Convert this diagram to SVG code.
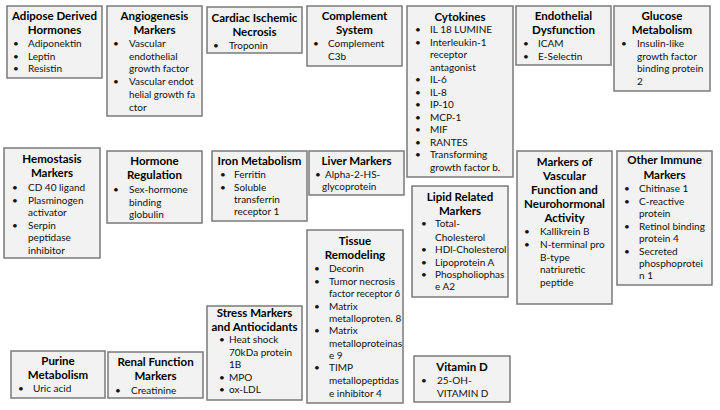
<svg xmlns="http://www.w3.org/2000/svg" width="720" height="410" viewBox="0 0 720 410">
<style>
rect{fill:#f2f2f2;stroke:#7a7a7a;stroke-width:1.5}
.t{font-family:Lato,"Open Sans",sans-serif;font-weight:bold;font-size:11.5px;text-anchor:middle;fill:#000}
.b{font-family:Lato,"Open Sans",sans-serif;font-size:10px;fill:#111}
</style>
<rect x="0" y="0" width="720" height="410" style="fill:#fff;stroke:none"/>
<g id="adipose"><rect x="7" y="6" width="95" height="72"/>
<text class="t" x="54.5" y="20">Adipose Derived</text><text class="t" x="54.5" y="34">Hormones</text>
<text class="b"><tspan x="13" y="47">•</tspan><tspan x="28" y="47">Adiponektin</tspan><tspan x="13" y="60">•</tspan><tspan x="28" y="60">Leptin</tspan><tspan x="13" y="72">•</tspan><tspan x="28" y="72">Resistin</tspan></text></g>
<g id="angiogenesis"><rect x="107" y="6" width="95" height="110"/>
<text class="t" x="154.5" y="20">Angiogenesis</text><text class="t" x="154.5" y="34">Markers</text>
<text class="b"><tspan x="113" y="47">•</tspan><tspan x="129" y="47">Vascular</tspan><tspan x="129" y="60">endothelial</tspan><tspan x="129" y="72">growth factor</tspan><tspan x="113" y="85">•</tspan><tspan x="129" y="85">Vascular endot</tspan><tspan x="129" y="111">ctor</tspan></text>
<text class="b" x="129" y="98" textLength="66" lengthAdjust="spacingAndGlyphs">helial growth fa</text></g>
<g id="cardiac"><rect x="207" y="7" width="95" height="46"/>
<text class="t" x="254.5" y="22">Cardiac Ischemic</text><text class="t" x="254.5" y="36">Necrosis</text>
<text class="b"><tspan x="213" y="49">•</tspan><tspan x="229" y="49">Troponin</tspan></text></g>
<g id="complement"><rect x="307" y="6" width="95" height="60"/>
<text class="t" x="354.5" y="20">Complement</text><text class="t" x="354.5" y="34">System</text>
<text class="b"><tspan x="313" y="47">•</tspan><tspan x="328" y="47">Complement</tspan><tspan x="328" y="60">C3b</tspan></text></g>
<g id="cytokines"><rect x="407" y="6" width="106" height="171"/>
<text class="t" x="460" y="21">Cytokines</text>
<text class="b"><tspan x="415" y="33">•</tspan><tspan x="430" y="33">IL 18 LUMINE</tspan><tspan x="415" y="45.5">•</tspan><tspan x="430" y="45.5">Interleukin-1</tspan><tspan x="430" y="58">receptor</tspan><tspan x="430" y="70.5">antagonist</tspan><tspan x="415" y="83">•</tspan><tspan x="430" y="83">IL-6</tspan><tspan x="415" y="95.5">•</tspan><tspan x="430" y="95.5">IL-8</tspan><tspan x="415" y="108">•</tspan><tspan x="430" y="108">IP-10</tspan><tspan x="415" y="120.5">•</tspan><tspan x="430" y="120.5">MCP-1</tspan><tspan x="415" y="133">•</tspan><tspan x="430" y="133">MIF</tspan><tspan x="415" y="145.5">•</tspan><tspan x="430" y="145.5">RANTES</tspan><tspan x="415" y="158">•</tspan><tspan x="430" y="158">Transforming</tspan><tspan x="430" y="170.5">growth factor b.</tspan></text></g>
<g id="endothelial"><rect x="516" y="6" width="95" height="59"/>
<text class="t" x="563.5" y="20">Endothelial</text><text class="t" x="563.5" y="34">Dysfunction</text>
<text class="b"><tspan x="523" y="47">•</tspan><tspan x="538" y="47">ICAM</tspan><tspan x="523" y="60">•</tspan><tspan x="538" y="60">E-Selectin</tspan></text></g>
<g id="glucose"><rect x="614" y="6" width="96" height="85"/>
<text class="t" x="662" y="20">Glucose</text><text class="t" x="662" y="34">Metabolism</text>
<text class="b"><tspan x="621" y="47">•</tspan><tspan x="637" y="47">Insulin-like</tspan><tspan x="637" y="60">growth factor</tspan><tspan x="637" y="72">binding protein</tspan><tspan x="637" y="85">2</tspan></text></g>
<g id="hemostasis"><rect x="4" y="148" width="96" height="110"/>
<text class="t" x="52" y="163">Hemostasis</text><text class="t" x="52" y="177">Markers</text>
<text class="b"><tspan x="12" y="191">•</tspan><tspan x="28" y="191">CD 40 ligand</tspan><tspan x="12" y="203.5">•</tspan><tspan x="28" y="203.5">Plasminogen</tspan><tspan x="28" y="216">activator</tspan><tspan x="12" y="228.5">•</tspan><tspan x="28" y="228.5">Serpin</tspan><tspan x="28" y="241">peptidase</tspan><tspan x="28" y="253.5">inhibitor</tspan></text></g>
<g id="hormone"><rect x="107" y="151" width="95" height="72"/>
<text class="t" x="154.5" y="165">Hormone</text><text class="t" x="154.5" y="179">Regulation</text>
<text class="b"><tspan x="113" y="193">•</tspan><tspan x="129" y="193">Sex-hormone</tspan><tspan x="129" y="206">binding</tspan><tspan x="129" y="218">globulin</tspan></text></g>
<g id="iron"><rect x="212" y="151" width="95" height="70"/>
<text class="t" x="259.5" y="165">Iron Metabolism</text>
<text class="b"><tspan x="220" y="178">•</tspan><tspan x="234" y="178">Ferritin</tspan><tspan x="220" y="191">•</tspan><tspan x="234" y="191">Soluble</tspan><tspan x="234" y="203">transferrin</tspan><tspan x="234" y="215">receptor 1</tspan></text></g>
<g id="liver"><rect x="309" y="151" width="95" height="44"/>
<text class="t" x="356.5" y="165">Liver Markers</text>
<text class="b"><tspan x="315" y="178">•</tspan><tspan x="325" y="178">Alpha-2-HS-</tspan><tspan x="322" y="190">glycoprotein</tspan></text></g>
<g id="vascular"><rect x="517" y="151" width="95" height="153"/>
<text class="t" x="564.5" y="166">Markers of</text><text class="t" x="564.5" y="180">Vascular</text><text class="t" x="564.5" y="194">Function and</text><text class="t" x="564.5" y="208">Neurohormonal</text><text class="t" x="564.5" y="222">Activity</text>
<text class="b"><tspan x="524" y="235">•</tspan><tspan x="540" y="235">Kallikrein B</tspan><tspan x="524" y="248">•</tspan><tspan x="540" y="248">N-terminal pro</tspan><tspan x="540" y="261">B-type</tspan><tspan x="540" y="273">natriuretic</tspan><tspan x="540" y="286">peptide</tspan></text></g>
<g id="other-immune"><rect x="617" y="151" width="95" height="134"/>
<text class="t" x="664.5" y="164">Other Immune</text><text class="t" x="664.5" y="179">Markers</text>
<text class="b"><tspan x="624" y="192">•</tspan><tspan x="639" y="192">Chitinase 1</tspan><tspan x="624" y="205">•</tspan><tspan x="639" y="205">C-reactive</tspan><tspan x="639" y="217">protein</tspan><tspan x="624" y="230">•</tspan><tspan x="639" y="230">Retinol binding</tspan><tspan x="639" y="242">protein 4</tspan><tspan x="624" y="255">•</tspan><tspan x="639" y="255">Secreted</tspan><tspan x="639" y="267">phosphoprotei</tspan><tspan x="639" y="279">n 1</tspan></text></g>
<g id="lipid"><rect x="412" y="186" width="96" height="111"/>
<text class="t" x="460" y="201">Lipid Related</text><text class="t" x="460" y="215">Markers</text>
<text class="b"><tspan x="421" y="227">•</tspan><tspan x="435" y="227">Total-</tspan><tspan x="435" y="241">Cholesterol</tspan><tspan x="421" y="253">•</tspan><tspan x="435" y="253">HDl-Cholesterol</tspan><tspan x="421" y="266">•</tspan><tspan x="435" y="266">Lipoprotein A</tspan><tspan x="421" y="278">•</tspan><tspan x="435" y="278">Phospholiophas</tspan><tspan x="435" y="290">e A2</tspan></text></g>
<g id="tissue"><rect x="307" y="230" width="96" height="173"/>
<text class="t" x="355" y="245">Tissue</text><text class="t" x="355" y="259">Remodeling</text>
<text class="b"><tspan x="314" y="272">•</tspan><tspan x="329" y="272">Decorin</tspan><tspan x="314" y="285">•</tspan><tspan x="329" y="285">Tumor necrosis</tspan><tspan x="314" y="310">•</tspan><tspan x="329" y="310">Matrix</tspan><tspan x="329" y="322">metalloproten. 8</tspan><tspan x="314" y="334">•</tspan><tspan x="329" y="334">Matrix</tspan><tspan x="329" y="347">metalloproteinas</tspan><tspan x="329" y="359">e 9</tspan><tspan x="314" y="371">•</tspan><tspan x="329" y="371">TIMP</tspan><tspan x="329" y="384">metallopeptidas</tspan><tspan x="329" y="397">e inhibitor 4</tspan></text>
<text class="b" x="329" y="297" textLength="71" lengthAdjust="spacingAndGlyphs">factor receptor 6</text></g>
<g id="stress"><rect x="207" y="306" width="95" height="94"/>
<text class="t" x="254.5" y="317">Stress Markers</text><text class="t" x="254.5" y="331">and Antiocidants</text>
<text class="b"><tspan x="219" y="343">•</tspan><tspan x="229" y="343">Heat shock</tspan><tspan x="229" y="356">70kDa protein</tspan><tspan x="229" y="368">1B</tspan><tspan x="219" y="381">•</tspan><tspan x="229" y="381">MPO</tspan><tspan x="219" y="393">•</tspan><tspan x="229" y="393">ox-LDL</tspan></text></g>
<g id="vitamin-d"><rect x="414" y="356" width="96" height="46"/>
<text class="t" x="462" y="371">Vitamin D</text>
<text class="b"><tspan x="421" y="384">•</tspan><tspan x="437" y="384">25-OH-</tspan><tspan x="437" y="397">VITAMIN D</tspan></text></g>
<g id="purine"><rect x="11" y="351" width="94" height="47"/>
<text class="t" x="58" y="365">Purine</text><text class="t" x="58" y="379">Metabolism</text>
<text class="b"><tspan x="18" y="392">•</tspan><tspan x="33" y="392">Uric acid</tspan></text></g>
<g id="renal"><rect x="108" y="352" width="95" height="46"/>
<text class="t" x="155.5" y="366">Renal Function</text><text class="t" x="155.5" y="380">Markers</text>
<text class="b"><tspan x="115" y="394">•</tspan><tspan x="131" y="394">Creatinine</tspan></text></g>
<g id="connectors"></g>
</svg>
